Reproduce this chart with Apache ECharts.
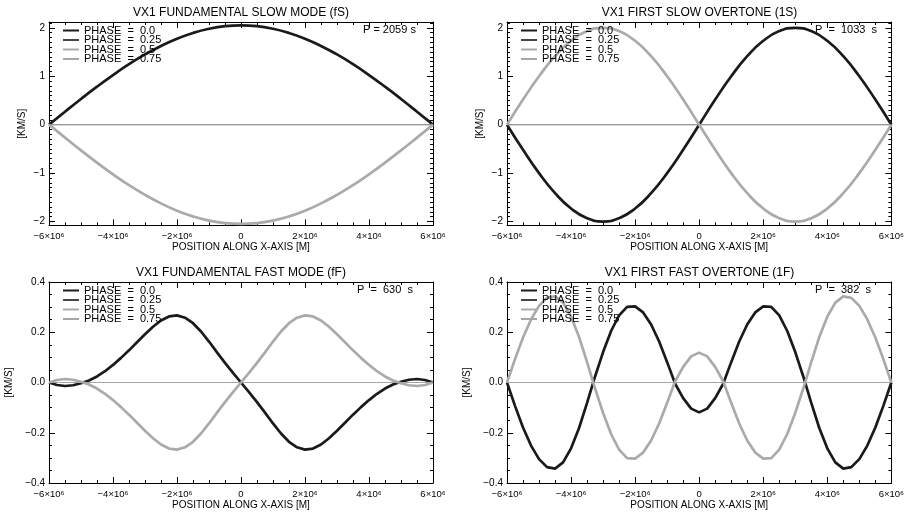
<!DOCTYPE html>
<html>
<head>
<meta charset="utf-8">
<script src="https://cdn.jsdelivr.net/npm/echarts@6/dist/echarts.min.js"></script>
<style>
  html, body { margin: 0; padding: 0; background: #fff; }
  #chart { width: 907px; height: 515px; }
</style>
</head>
<body>
<div id="chart"></div>
<script>
// positions along x-axis, in units of 1e6 m
const X_TOP = [-6, -5.5, -5, -4.5, -4, -3.5, -3, -2.5, -2, -1.5, -1, -0.5, 0, 0.5, 1, 1.5, 2, 2.5, 3, 3.5, 4, 4.5, 5, 5.5, 6]
const X_BOTTOM = [-6, -5.75, -5.5, -5.25, -5, -4.75, -4.5, -4.25, -4, -3.75, -3.5, -3.25, -3, -2.75, -2.5, -2.25, -2, -1.75, -1.5, -1.25, -1, -0.75, -0.5, -0.25, 0,
  0.25, 0.5, 0.75, 1, 1.25, 1.5, 1.75, 2, 2.25, 2.5, 2.75, 3, 3.25, 3.5, 3.75, 4, 4.25, 4.5, 4.75, 5, 5.25, 5.5, 5.75, 6]
const X_ENDS = [-6, 6]

// fundamental slow mode (fS), km/s
const FS_P00 = [0, 0.268, 0.531, 0.785, 1.025, 1.249, 1.45, 1.626, 1.775, 1.894, 1.98, 2.033, 2.05, 2.033, 1.98, 1.894, 1.775, 1.626, 1.45, 1.249, 1.025, 0.785, 0.531, 0.268, 0]
const FS_P50 = [0, -0.268, -0.531, -0.785, -1.025, -1.249, -1.45, -1.626, -1.775, -1.894, -1.98, -2.033, -2.05, -2.033, -1.98, -1.894, -1.775, -1.626, -1.45, -1.249, -1.025, -0.785, -0.531, -0.268, 0]

// first slow overtone (1S)
const S1_P00 = [0, -0.518, -1.0, -1.414, -1.732, -1.932, -2.0, -1.932, -1.732, -1.414, -1.0, -0.518, 0, 0.518, 1.0, 1.414, 1.732, 1.932, 2.0, 1.932, 1.732, 1.414, 1.0, 0.518, 0]
const S1_P50 = [0, 0.518, 1.0, 1.414, 1.732, 1.932, 2.0, 1.932, 1.732, 1.414, 1.0, 0.518, 0, -0.518, -1.0, -1.414, -1.732, -1.932, -2.0, -1.932, -1.732, -1.414, -1.0, -0.518, 0]

// fundamental fast mode (fF)
const FF_P00 = [0, -0.010, -0.014, -0.011, -0.003, 0.008, 0.024, 0.045, 0.070, 0.098, 0.128, 0.160, 0.192, 0.222, 0.247, 0.263, 0.267, 0.258, 0.236, 0.203, 0.163, 0.120, 0.078, 0.038, 0,
  -0.038, -0.078, -0.120, -0.163, -0.203, -0.236, -0.258, -0.267, -0.263, -0.247, -0.222, -0.192, -0.160, -0.128, -0.098, -0.070, -0.045, -0.024, -0.008, 0.003, 0.011, 0.014, 0.010, 0]
const FF_P50 = [0, 0.010, 0.014, 0.011, 0.003, -0.008, -0.024, -0.045, -0.070, -0.098, -0.128, -0.160, -0.192, -0.222, -0.247, -0.263, -0.267, -0.258, -0.236, -0.203, -0.163, -0.120, -0.078, -0.038, 0,
  0.038, 0.078, 0.120, 0.163, 0.203, 0.236, 0.258, 0.267, 0.263, 0.247, 0.222, 0.192, 0.160, 0.128, 0.098, 0.070, 0.045, 0.024, 0.008, -0.003, -0.011, -0.014, -0.010, 0]

// first fast overtone (1F)
const F1_P00 = [0, -0.093, -0.179, -0.251, -0.305, -0.337, -0.343, -0.318, -0.262, -0.181, -0.081, 0.024, 0.121, 0.205, 0.267, 0.301, 0.303, 0.279, 0.231, 0.163, 0.081, -0.005, -0.062, -0.104, -0.119,
  -0.104, -0.062, -0.005, 0.081, 0.163, 0.231, 0.279, 0.303, 0.301, 0.267, 0.205, 0.121, 0.024, -0.081, -0.181, -0.262, -0.318, -0.343, -0.337, -0.305, -0.251, -0.179, -0.093, 0]
const F1_P50 = [0, 0.093, 0.179, 0.251, 0.305, 0.337, 0.343, 0.318, 0.262, 0.181, 0.081, -0.024, -0.121, -0.205, -0.267, -0.301, -0.303, -0.279, -0.231, -0.163, -0.081, 0.005, 0.062, 0.104, 0.119,
  0.104, 0.062, 0.005, -0.081, -0.163, -0.231, -0.279, -0.303, -0.301, -0.267, -0.205, -0.121, -0.024, 0.081, 0.181, 0.262, 0.318, 0.343, 0.337, 0.305, 0.251, 0.179, 0.093, 0]

// phases 0.25 and 0.75 sit on zero everywhere
const ZERO_ENDS = [0, 0]

const PHASES = ['PHASE  =  0.0', 'PHASE  =  0.25', 'PHASE  =  0.5', 'PHASE  =  0.75']
const TITLES = ['VX1 FUNDAMENTAL SLOW MODE (fS)', 'VX1 FIRST SLOW OVERTONE (1S)', 'VX1 FUNDAMENTAL FAST MODE (fF)', 'VX1 FIRST FAST OVERTONE (1F)']
const PERIODS = ['P = 2059 s', 'P  =  1033  s', 'P  =  630  s', 'P  =  382  s']

const X_TICKS = [-6, -4, -2, 0, 2, 4, 6]
const X_LABELS = ['−6×10⁶', '−4×10⁶', '−2×10⁶', '0', '2×10⁶', '4×10⁶', '6×10⁶']
const Y_TICKS_TOP = [-2, -1, 0, 1, 2]
const Y_LABELS_TOP = ['−2', '−1', '0', '1', '2']
const Y_TICKS_BOTTOM = [-0.4, -0.2, 0, 0.2, 0.4]
const Y_LABELS_BOTTOM = ['−0.4', '−0.2', '0.0', '0.2', '0.4']

const FONT = '"Liberation Sans", "DejaVu Sans", Arial, sans-serif'

function steps(a, b, s) {
  const out = []
  const n = Math.round((b - a) / s)
  for (let i = 0; i <= n; i++) out.push(+(a + i * s).toFixed(4))
  return out
}

const panels = [
  {box: {left: 49, top: 22, width: 384, height: 203.4}, yMin: -2.08, yMax: 2.12, ticks: Y_TICKS_TOP, labels: Y_LABELS_TOP, minor: steps(-2, 2.1, 0.1), nameGap: 22,
    x: X_TOP, p0: FS_P00, p5: FS_P50, smooth: true, pDx: 314, pY: 30},
  {box: {left: 507, top: 22, width: 385, height: 203.4}, yMin: -2.08, yMax: 2.12, ticks: Y_TICKS_TOP, labels: Y_LABELS_TOP, minor: steps(-2, 2.1, 0.1), nameGap: 22,
    x: X_TOP, p0: S1_P00, p5: S1_P50, smooth: true, pDx: 308, pY: 30},
  {box: {left: 49, top: 282, width: 384, height: 201}, yMin: -0.4, yMax: 0.4, ticks: Y_TICKS_BOTTOM, labels: Y_LABELS_BOTTOM, minor: steps(-0.4, 0.4, 0.05), nameGap: 35,
    x: X_BOTTOM, p0: FF_P00, p5: FF_P50, smooth: false, pDx: 308, pY: 289.5},
  {box: {left: 507, top: 282, width: 385, height: 201}, yMin: -0.4, yMax: 0.4, ticks: Y_TICKS_BOTTOM, labels: Y_LABELS_BOTTOM, minor: steps(-0.4, 0.4, 0.05), nameGap: 35,
    x: X_BOTTOM, p0: F1_P00, p5: F1_P50, smooth: false, pDx: 308, pY: 289.5}
]

const lineBlack = {color: '#000', width: 1}
const grids = [], xAxes = [], yAxes = [], series = [], legends = [], graphics = []

function pairs(xs, ys) {
  return xs.map(function (x, i) { return [x, ys[i]] })
}

panels.forEach(function (p, gi) {
  grids.push(Object.assign({containLabel: false}, p.box))

  const xBase = {
    type: 'value', gridIndex: gi, min: -6, max: 6, interval: 2,
    axisLine: {show: true, onZero: false, lineStyle: lineBlack},
    axisTick: {show: true, inside: true, length: 6, lineStyle: lineBlack},
    minorTick: {show: true, splitNumber: 4, length: 3, lineStyle: lineBlack},
    splitLine: {show: false}
  }
  xAxes.push(Object.assign({}, xBase, {
    position: 'bottom',
    name: 'POSITION ALONG X-AXIS [M]',
    nameLocation: 'middle',
    nameGap: 17,
    nameTextStyle: {fontFamily: FONT, fontSize: 10, color: '#000'},
    axisLabel: {
      margin: 6, fontFamily: FONT, fontSize: 9.5, color: '#000',
      formatter: function (v) {
        return X_LABELS[X_TICKS.indexOf(v)]
      }
    }
  }))
  // top axis only closes the box
  xAxes.push(Object.assign({}, xBase, {position: 'top', axisLabel: {show: false}}))

  const yBase = {
    type: 'value', gridIndex: gi, min: p.yMin, max: p.yMax,
    splitLine: {show: false}
  }
  // left, major ticks with labels
  yAxes.push(Object.assign({}, yBase, {
    position: 'left',
    axisLine: {show: true, onZero: false, lineStyle: lineBlack},
    axisTick: {show: true, inside: true, length: 6, customValues: p.ticks, lineStyle: lineBlack},
    axisLabel: {
      show: true, margin: 4, customValues: p.ticks,
      fontFamily: FONT, fontSize: 10, color: '#000',
      formatter: function (v) {
        for (let i = 0; i < p.ticks.length; i++) {
          if (Math.abs(p.ticks[i] - v) < 1e-9) return p.labels[i]
        }
        return ''
      }
    },
    name: '[KM/S]', nameLocation: 'middle', nameRotate: 90, nameGap: p.nameGap,
    nameTextStyle: {fontFamily: FONT, fontSize: 10, color: '#000'}
  }))
  // left, minor ticks
  yAxes.push(Object.assign({}, yBase, {
    position: 'left',
    axisLine: {show: false, onZero: false},
    axisTick: {show: true, inside: true, length: 3, customValues: p.minor, lineStyle: lineBlack},
    axisLabel: {show: false}
  }))
  // right side, mirrored ticks
  yAxes.push(Object.assign({}, yBase, {
    position: 'right',
    axisLine: {show: true, onZero: false, lineStyle: lineBlack},
    axisTick: {show: true, inside: true, length: 6, customValues: p.ticks, lineStyle: lineBlack},
    axisLabel: {show: false}
  }))
  yAxes.push(Object.assign({}, yBase, {
    position: 'right',
    axisLine: {show: false, onZero: false},
    axisTick: {show: true, inside: true, length: 3, customValues: p.minor, lineStyle: lineBlack},
    axisLabel: {show: false}
  }))

  const common = {type: 'line', xAxisIndex: gi * 2, yAxisIndex: gi * 4, symbol: 'none', smooth: p.smooth, animation: false}
  series.push(Object.assign({}, common, {name: PHASES[0], data: pairs(p.x, p.p0), lineStyle: {color: '#1a1a1a', width: 2.7}, itemStyle: {color: '#1a1a1a'}}))
  series.push(Object.assign({}, common, {name: PHASES[1], data: pairs(X_ENDS, ZERO_ENDS), lineStyle: {color: '#444', width: 1}, itemStyle: {color: '#444'}}))
  series.push(Object.assign({}, common, {name: PHASES[2], data: pairs(p.x, p.p5), lineStyle: {color: '#aaaaaa', width: 2.7}, itemStyle: {color: '#aaaaaa'}}))
  series.push(Object.assign({}, common, {name: PHASES[3], data: pairs(X_ENDS, ZERO_ENDS), lineStyle: {color: '#a6a6a6', width: 1}, itemStyle: {color: '#a6a6a6'}}))

  legends.push({
    left: p.box.left + 13, top: p.box.top + 3,
    orient: 'vertical', padding: 0, itemGap: -1.5, itemWidth: 16, itemHeight: 9,
    selectedMode: false,
    itemStyle: {opacity: 0},
    textStyle: {fontFamily: FONT, fontSize: 11, color: '#000'},
    data: PHASES
  })

  graphics.push({
    type: 'text', x: p.box.left + p.box.width / 2, y: p.box.top - 9,
    style: {text: TITLES[gi], font: '12px ' + FONT, fill: '#000', align: 'center', verticalAlign: 'middle'}
  })
  graphics.push({
    type: 'text', x: p.box.left + p.pDx, y: p.pY,
    style: {text: PERIODS[gi], font: '11px ' + FONT, fill: '#000', align: 'left', verticalAlign: 'middle'}
  })
})

const chart = echarts.init(document.getElementById('chart'), null, {renderer: 'canvas'})
chart.setOption({
  animation: false,
  backgroundColor: '#fff',
  grid: grids,
  xAxis: xAxes,
  yAxis: yAxes,
  legend: legends,
  graphic: graphics,
  series: series
})
</script>
</body>
</html>
